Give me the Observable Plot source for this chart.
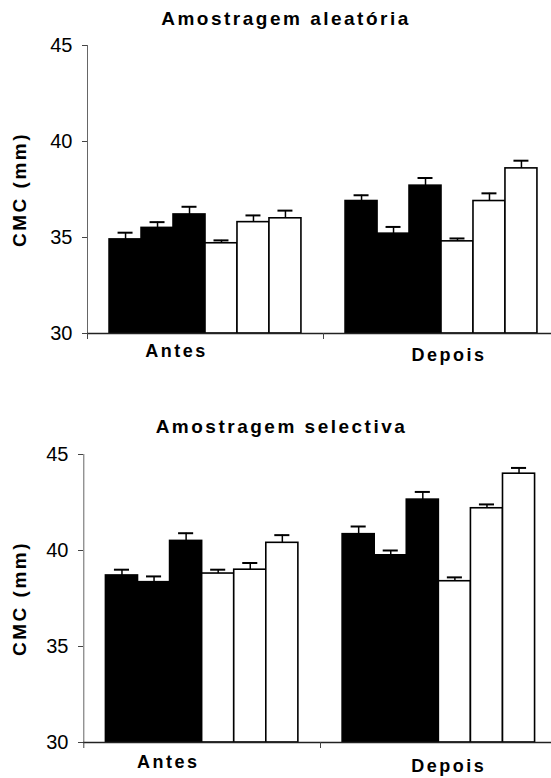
<!DOCTYPE html>
<html><head><meta charset="utf-8">
<script src="https://cdn.jsdelivr.net/npm/d3@7"></script>
<script src="https://cdn.jsdelivr.net/npm/@observablehq/plot@0.6"></script>
<style>
body{margin:0;background:#fff;overflow:hidden}
#chart svg{display:block}
#chart g[font-weight="bold"] text{letter-spacing:2.5px}
</style></head><body><div id="chart"></div>
<script>
const periods = ["Antes", "Depois"];
const seriesGroup = ["preto", "preto", "preto", "branco", "branco", "branco"];
const yTicks = [30, 35, 40, 45];
const yLabel = "CMC (mm)";

const aleatoriaAntes = [34.9, 35.5, 36.2, 34.7, 35.8, 36.0];
const aleatoriaAntesErr = [0.35, 0.3, 0.4, 0.15, 0.35, 0.4];
const aleatoriaDepois = [36.9, 35.2, 37.7, 34.8, 36.9, 38.6];
const aleatoriaDepoisErr = [0.3, 0.35, 0.4, 0.15, 0.4, 0.4];

const selectivaAntes = [38.7, 38.35, 40.5, 38.8, 39.0, 40.4];
const selectivaAntesErr = [0.3, 0.3, 0.4, 0.2, 0.35, 0.4];
const selectivaDepois = [40.85, 39.75, 42.65, 38.4, 42.2, 44.0];
const selectivaDepoisErr = [0.4, 0.25, 0.4, 0.2, 0.2, 0.3];

function rows(antes, antesErr, depois, depoisErr) {
  const out = [];
  [[antes, antesErr], [depois, depoisErr]].forEach(([vals, errs], p) =>
    vals.forEach((v, s) => out.push({p, period: periods[p], s, grp: seriesGroup[s], v, e: errs[s]})));
  return out;
}

const PAD = 0.69, N = 6, STEP = 1 / (N + 2 * PAD);
const left = d => d.p + (PAD + d.s) * STEP;
const right = d => left(d) + STEP;
const mid = d => left(d) + STEP / 2;

function panel(cfg) {
  const data = rows(...cfg.values);
  return Plot.plot({
    width: 551, height: cfg.height,
    marginTop: cfg.marginTop, marginBottom: cfg.marginBottom,
    marginLeft: cfg.marginLeft, marginRight: 0,
    style: {fontFamily: "'Liberation Sans', Arial, sans-serif", fontSize: "20px", background: "#fff", color: "#000", overflow: "hidden"},
    x: {type: "linear", domain: [0, 2], range: cfg.xRange},
    y: {domain: [30, 45]},
    color: {domain: ["preto", "branco"], range: ["#000", "#fff"]},
    marks: [
      Plot.rect(data, {x1: left, x2: right, y1: 30, y2: "v", fill: "grp", stroke: "#000", strokeWidth: 1.6}),
      Plot.ruleX(data, {x: mid, y1: "v", y2: d => d.v + d.e, stroke: "#000", strokeWidth: 1.5}),
      Plot.ruleY(data, {x1: left, x2: right, y: d => d.v + d.e, insetLeft: 8.5, insetRight: 8.5, stroke: "#000", strokeWidth: 2}),
      Plot.ruleX([0], {y1: 30, y2: 45, stroke: "#666", strokeWidth: 1}),
      Plot.ruleY([30], {stroke: "#222", strokeWidth: 1.5}),
      Plot.axisX({ticks: [0, 1, 2], tickSize: 6, tickFormat: () => "", label: null, stroke: "#444"}),
      Plot.axisY({ticks: yTicks, tickSize: 5, tickPadding: 10, fontSize: 20, label: null, stroke: "#444"}),
      Plot.text([cfg.title], {frameAnchor: "top-left", dx: cfg.titleX - cfg.marginLeft, dy: cfg.titleY - cfg.marginTop,
        textAnchor: "middle", lineAnchor: "middle", fontWeight: "bold", fontSize: 19}),
      Plot.text([yLabel], {frameAnchor: "left", rotate: -90, dx: cfg.yLabelX - cfg.marginLeft,
        textAnchor: "middle", lineAnchor: "middle", fontWeight: "bold", fontSize: 19}),
      Plot.text([periods[0]], {x: 0.5, y: 30, dx: cfg.antesDx, dy: cfg.antesDy, lineAnchor: "middle",
        fontWeight: "bold", fontSize: 18}),
      Plot.text([periods[1]], {x: 1.5, y: 30, dx: cfg.depoisDx, dy: cfg.depoisDy, lineAnchor: "middle",
        fontWeight: "bold", fontSize: 18})
    ]
  });
}

const chart = document.getElementById("chart");
chart.append(panel({
  values: [aleatoriaAntes, aleatoriaAntesErr, aleatoriaDepois, aleatoriaDepoisErr],
  title: "Amostragem aleatória",
  height: 389, marginTop: 45, marginBottom: 56, marginLeft: 87, xRange: [87, 559],
  titleX: 285.5, titleY: 18.5, yLabelX: 19.5,
  antesDx: -29, antesDy: 18, depoisDx: 7.5, depoisDy: 22
}));
chart.append(panel({
  values: [selectivaAntes, selectivaAntesErr, selectivaDepois, selectivaDepoisErr],
  title: "Amostragem selectiva",
  height: 389, marginTop: 65, marginBottom: 36, marginLeft: 83, xRange: [83.3, 556.7],
  titleX: 281, titleY: 37, yLabelX: 19.5,
  antesDx: -34, antesDy: 20, depoisDx: 10, depoisDy: 24
}));
</script></body></html>
